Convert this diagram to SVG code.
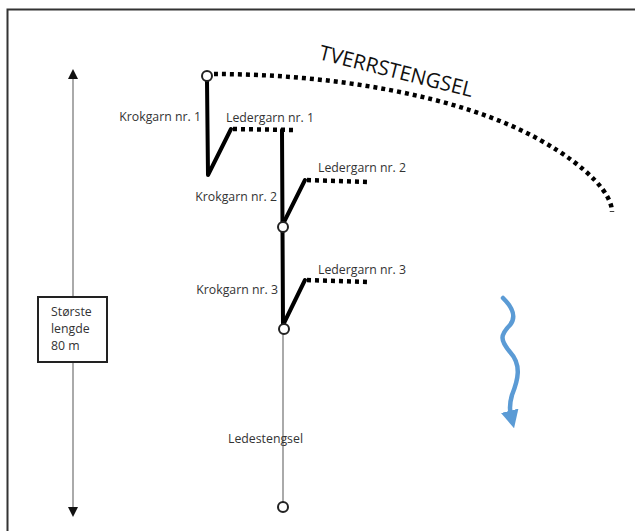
<svg xmlns="http://www.w3.org/2000/svg" width="635" height="531" viewBox="0 0 635 531">
<defs>
<style>
.t{font-family:"Open Sans","Liberation Sans",sans-serif;font-size:12.3px;fill:#333}
.thick{stroke:#000;stroke-width:4;fill:none;stroke-linecap:round;stroke-linejoin:round}
.dot{stroke:#000;stroke-width:4.5;fill:none;stroke-dasharray:4 4}
.ring{fill:#fff;stroke:#222;stroke-width:2}
</style>
<marker id="ah" viewBox="0 0 10 10" refX="5" refY="5" markerWidth="10" markerHeight="10" markerUnits="userSpaceOnUse" orient="auto-start-reverse">
<path d="M0,0 L10,5 L0,10 z" fill="#111"/>
</marker>
<marker id="bh" viewBox="0 0 10 10" refX="3" refY="5" markerWidth="4" markerHeight="4" orient="auto">
<path d="M0,0 L10,5 L0,10 z" fill="#5b9bd5"/>
</marker>
</defs>
<rect x="0" y="0" width="635" height="531" fill="#fff"/>
<path d="M7.5,540 L7.5,9.5 L640,9.5" fill="none" stroke="#333" stroke-width="2"/>
<g id="connectors">
<line x1="73" y1="74" x2="73" y2="512" stroke="#aaa" stroke-width="2" marker-start="url(#ah)" marker-end="url(#ah)"/>
<path class="dot" d="M214,74 C330,74 460,95 540,140 C590,168 612,195 612,212"/>
<path class="thick" d="M207,81 L208,175 L231,129"/>
<path class="dot" d="M233,129 L295,130"/>
<path class="thick" d="M282,130 L283,325"/>
<path class="thick" d="M284,222 L305,180"/>
<path class="dot" d="M307,180 L370,182"/>
<path class="thick" d="M284,323 L305,280"/>
<path class="dot" d="M307,280 L370,282"/>
<line x1="283" y1="334" x2="283" y2="502" stroke="#aaa" stroke-width="2"/>
<path d="M503,298 C510,305 518,315 510,325 C500,335 500,340 510,352 C522,365 518,380 512,395 C509,405 510,412 511,416" fill="none" stroke="#5b9bd5" stroke-width="4.5" stroke-linecap="round" marker-end="url(#bh)"/>
</g>
<g id="n-top"><circle class="ring" cx="207" cy="76" r="5"/></g>
<g id="n-k2"><circle class="ring" cx="283" cy="227" r="5"/></g>
<g id="n-k3"><circle class="ring" cx="284" cy="329" r="5"/></g>
<g id="n-end"><circle class="ring" cx="283" cy="507" r="5"/></g>
<g id="box">
<rect x="38" y="297" width="69" height="65" fill="#fff" stroke="#222" stroke-width="2"/>
<text class="t" x="51" y="316">Største</text>
<text class="t" x="51" y="333">lengde</text>
<text class="t" x="51" y="350">80 m</text>
</g>
<g id="labels">
<text x="318" y="59" transform="rotate(14 318 59)" style="font-family:'Open Sans','Liberation Sans',sans-serif;font-size:20.5px;fill:#111">TVERRSTENGSEL</text>
<text class="t" x="201" y="121" text-anchor="end">Krokgarn nr. 1</text>
<text class="t" x="226" y="122">Ledergarn nr. 1</text>
<text class="t" x="318" y="172">Ledergarn nr. 2</text>
<text class="t" x="277" y="201" text-anchor="end">Krokgarn nr. 2</text>
<text class="t" x="318" y="274">Ledergarn nr. 3</text>
<text class="t" x="278" y="294" text-anchor="end">Krokgarn nr. 3</text>
<text class="t" x="228" y="443">Ledestengsel</text>
</g>
</svg>
